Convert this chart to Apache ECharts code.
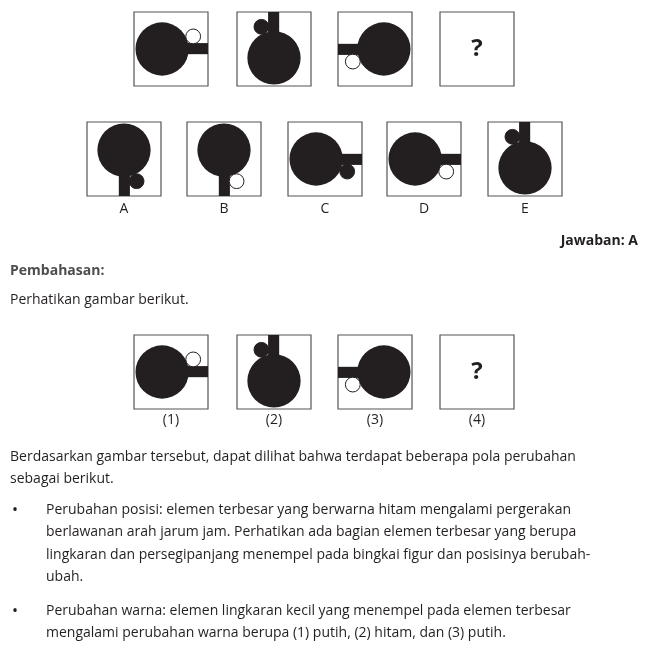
<!DOCTYPE html>
<html>
<head>
<meta charset="utf-8">
<script src="https://cdn.jsdelivr.net/npm/echarts@6/dist/echarts.min.js"></script>
<style>html,body{margin:0;padding:0;background:#fff}#main{width:670px;height:652px}</style>
</head>
<body>
<div id="main"></div>
<script>
// soal: rotasi (kelipatan 90° berlawanan jarum jam), cermin, warna lingkaran kecil
var soalRot    = [0, 1, 2];
var soalMirror = [false, false, false];
var soalSmall  = ['#fff', '#231f20', '#fff'];
var soalX      = [134, 237, 338, 440];

var opsiLabel  = ['A', 'B', 'C', 'D', 'E'];
var opsiRot    = [3, 3, 0, 0, 1];
var opsiMirror = [false, false, true, true, false];
var opsiSmall  = ['#231f20', '#fff', '#231f20', '#fff', '#231f20'];
var opsiX      = [87, 187, 288, 387, 488];

var nomorLabel = ['(1)', '(2)', '(3)', '(4)'];

var teks = [
  'Berdasarkan gambar tersebut, dapat dilihat bahwa terdapat beberapa pola perubahan',
  'sebagai berikut.'
];
var bullet1 = [
  'Perubahan posisi: elemen terbesar yang berwarna hitam mengalami pergerakan',
  'berlawanan arah jarum jam. Perhatikan ada bagian elemen terbesar yang berupa',
  'lingkaran dan persegipanjang menempel pada bingkai figur dan posisinya berubah-',
  'ubah.'
];
var bullet2 = [
  'Perubahan warna: elemen lingkaran kecil yang menempel pada elemen terbesar',
  'mengalami perubahan warna berupa (1) putih, (2) hitam, dan (3) putih.'
];

var BOX = 74, INK = '#231f20';
var FONT = '"Open Sans", sans-serif';

function tf(u, v, rot, mirror) {
  var dx = u - 0.5, dy = v - 0.5;
  if (mirror) dy = -dy;
  for (var i = 0; i < rot; i++) { var t = dx; dx = dy; dy = -t; }
  return [0.5 + dx, 0.5 + dy];
}

function figur(x0, y0, rot, mirror, small, tanya) {
  var els = [{ type: 'rect', shape: { x: x0, y: y0, width: BOX, height: BOX },
    style: { fill: '#fff', stroke: '#555', lineWidth: 1.2 }, z: 1 }];
  if (tanya) {
    els.push({ type: 'text', x: x0 + BOX / 2, y: y0 + BOX / 2,
      style: { text: '?', fill: INK, font: 'bold 24px ' + FONT, align: 'center', verticalAlign: 'middle' }, z: 2 });
    return els;
  }
  var a = tf(0.6, 0.42, rot, mirror), b = tf(1.0, 0.57, rot, mirror);
  els.push({ type: 'rect', shape: {
      x: x0 + Math.min(a[0], b[0]) * BOX, y: y0 + Math.min(a[1], b[1]) * BOX,
      width: Math.abs(a[0] - b[0]) * BOX, height: Math.abs(a[1] - b[1]) * BOX },
    style: { fill: INK }, z: 2 });
  var c = tf(0.38, 0.5, rot, mirror);
  els.push({ type: 'circle', shape: { cx: x0 + c[0] * BOX, cy: y0 + c[1] * BOX, r: 0.36 * BOX },
    style: { fill: INK }, z: 3 });
  var s = tf(0.8, 0.33, rot, mirror);
  els.push({ type: 'circle', shape: { cx: x0 + s[0] * BOX, cy: y0 + s[1] * BOX, r: 0.1 * BOX },
    style: { fill: small, stroke: INK, lineWidth: 1 }, z: 4 });
  return els;
}

function teksEl(x, y, str, opt) {
  opt = opt || {};
  return { type: 'text', x: x, y: y, z: 5,
    style: { text: str, fill: opt.fill || INK, font: (opt.bold ? 'bold ' : '') + (opt.size || 14) + 'px ' + FONT,
      align: opt.align || 'left', verticalAlign: 'middle' } };
}

var g = [];
soalX.forEach(function (x, i) {
  g = g.concat(figur(x, 12, soalRot[i], soalMirror[i], soalSmall[i], i === 3));
  g = g.concat(figur(x, 335, soalRot[i], soalMirror[i], soalSmall[i], i === 3));
  g.push(teksEl(x + BOX / 2, 420, nomorLabel[i], { align: 'center' }));
});
opsiX.forEach(function (x, i) {
  g = g.concat(figur(x, 122, opsiRot[i], opsiMirror[i], opsiSmall[i], false));
  g.push(teksEl(x + BOX / 2, 209, opsiLabel[i], { align: 'center' }));
});
g.push(teksEl(638, 241, 'Jawaban: A', { bold: true, align: 'right' }));
g.push(teksEl(10, 271, 'Pembahasan:', { bold: true, fill: '#4d4d4d' }));
g.push(teksEl(10, 300, 'Perhatikan gambar berikut.'));
teks.forEach(function (t, i) { g.push(teksEl(10, 457 + i * 22, t)); });
g.push(teksEl(12, 510, '•', { size: 16 }));
bullet1.forEach(function (t, i) { g.push(teksEl(46, 510 + i * 22.5, t)); });
g.push(teksEl(12, 611, '•', { size: 16 }));
bullet2.forEach(function (t, i) { g.push(teksEl(46, 611 + i * 22.5, t)); });

var chart = echarts.init(document.getElementById('main'), null, { renderer: 'canvas' });
chart.setOption({ backgroundColor: '#fff', graphic: { elements: g } });
</script>
</body>
</html>
